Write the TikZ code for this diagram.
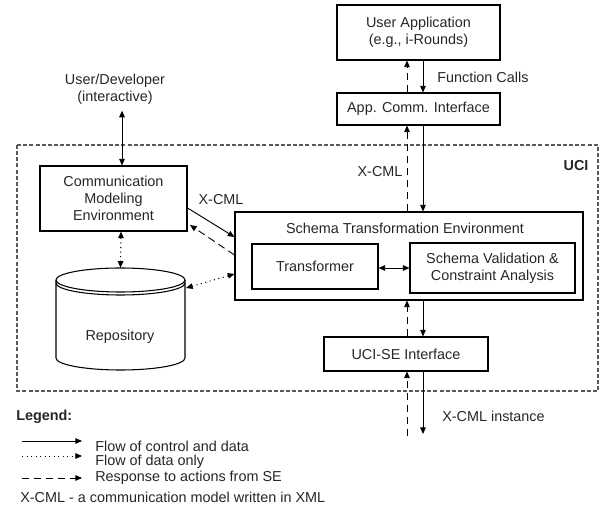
\documentclass[tikz,border=0pt]{standalone}
\usepackage{fontspec}
\setmainfont{Liberation Sans}
\usetikzlibrary{arrows.meta,fit}
\begin{document}
\begin{tikzpicture}[x=0.75pt,y=-0.75pt,
  every node/.style={font=\fontsize{10.8}{13}\selectfont, text=black!85},
  box/.style={draw, line width=0.8pt, inner sep=0pt, align=center},
  tip/.style={-{Triangle[length=5pt,width=4.2pt]}},
  sol/.style={line width=0.7pt, tip},
  dsh/.style={line width=0.7pt, dash pattern=on 5.5pt off 3.5pt, tip},
  dot/.style={line width=0.8pt, dash pattern=on 0.8pt off 2.6pt, tip},
  lab/.style={inner sep=0pt}]
\useasboundingbox (0,0) rectangle (600,516);

% UCI region
\draw[black!65, line width=1.1pt, dash pattern=on 3pt off 1.6pt] (17,145) rectangle (598,391);
\node[lab, font=\fontsize{10.8}{13}\selectfont\bfseries] (ucil) at (576,166) {UCI};

% boxes
\node[box, fit={(337,5) (500,60)}] (ua) {};
\node[lab, align=center] (ual) at (ua.center) {User Application\\(e.g., i-Rounds)};
\node[box, fit={(337,93) (500,125)}] (aci) {};
\node[lab] (acil) at (aci.center) {App. Comm. Interface};
\node[box, fit={(40,166) (187,231)}] (cme) {};
\node[lab, align=center] (cmel) at (cme.center) {Communication\\Modeling\\Environment};
\node[box, fit={(235,212) (583,300)}] (ste) {};
\node[lab] (stel) at (405,228) {Schema Transformation Environment};
\node[box, fit={(252,244) (378,289)}] (tr) {};
\node[lab] (trl) at (tr.center) {Transformer};
\node[box, fit={(410,243) (575,293)}] (sv) {};
\node[lab, align=center] (svl) at (sv.center) {Schema Validation \&\\Constraint Analysis};
\node[box, fit={(324,337) (488,371)}] (uci) {};
\node[lab] (ucil2) at (uci.center) {UCI-SE Interface};

% repository cylinder
\node[inner sep=0pt, fit={(56,268) (185,370)}] (repo) {};
\draw[line width=0.8pt, fill=white] (120.5,280) ellipse [x radius=48.375pt, y radius=9pt];
\draw[line width=0.8pt] (56,280) -- (56,358) arc[start angle=180, end angle=360, x radius=48.375pt, y radius=9pt] -- (185,280);
\draw[line width=0.8pt] (56,283) arc[start angle=180, end angle=360, x radius=48.375pt, y radius=9pt];
\node[lab] (repol) at (120,337) {Repository};

% user/developer
\node[lab, align=center] (user) at (115,89) {User/Developer\\(interactive)};
\coordinate (ux) at (122,0);
\draw[line width=0.7pt, {Triangle[length=5pt,width=4.2pt]}-{Triangle[length=5pt,width=4.2pt]}] (user.south -| ux) ++(0,6) -- (cme.north -| ux);

% vertical line positions
\coordinate (ls) at (407,0);
\coordinate (rs) at (423,0);

\draw[sol] (ua.south -| rs) -- (aci.north -| rs);
\draw[dsh] (aci.north -| ls) -- (ua.south -| ls);
\node[lab, anchor=west] (fc) at (437,77) {Function Calls};

\draw[sol] (aci.south -| rs) -- (ste.north -| rs);
\draw[dsh] (ste.north -| ls) -- (aci.south -| ls);
\node[lab] (xc1) at (380,172) {X-CML};

\draw[sol] (ste.south -| rs) -- (uci.north -| rs);
\draw[dsh] (uci.north -| ls) -- (ste.south -| ls);

\coordinate (outs) at (423,434);
\coordinate (outd) at (407,436);
\draw[sol] (uci.south -| rs) -- (outs);
\draw[dsh] (outd) -- (uci.south -| ls);
\node[lab, anchor=west] (xci) at (442,416) {X-CML instance};

% cme <-> ste
\draw[sol] (cme.east |- 0,208) -- (ste.west |- 0,237);
\node[lab] (xc2) at (221,200) {X-CML};
\draw[dsh] (ste.west |- 0,255) -- (190,225);
\draw[dot, {Triangle[length=5pt,width=4.2pt]}-{Triangle[length=5pt,width=4.2pt]}] (186,288) -- (ste.west |- 0,274);
\draw[dot, {Triangle[length=5pt,width=4.2pt]}-{Triangle[length=5pt,width=4.2pt]}] (cme.south -| 121,0) -- (repo.north);

\draw[line width=0.7pt, {Triangle[length=5pt,width=4.2pt]}-{Triangle[length=5pt,width=4.2pt]}] (tr.east |- 0,268) -- (sv.west |- 0,268);

% legend
\node[lab, anchor=west, font=\fontsize{10.8}{13}\selectfont\bfseries] (leg) at (16,417) {Legend:};
\coordinate (l1a) at (22,441); \coordinate (l1b) at (82,441);
\coordinate (l2a) at (22,456); \coordinate (l2b) at (82,456);
\coordinate (l3a) at (22,478); \coordinate (l3b) at (82,478);
\draw[sol] (l1a) -- (l1b);
\draw[dot, line width=0.6pt] (l2a) -- (l2b);
\draw[dsh] (l3a) -- (l3b);
\node[lab, anchor=west] (t1) at (95,446) {Flow of control and data};
\node[lab, anchor=west] (t2) at (95,462) {Flow of data only};
\node[lab, anchor=west] (t3) at (95,478) {Response to actions from SE};
\node[lab, anchor=west] (t4) at (20,497) {X-CML - a communication model written in XML};
\end{tikzpicture}
\end{document}
